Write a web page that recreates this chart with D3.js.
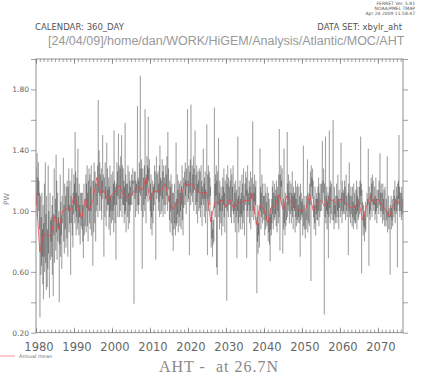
<!DOCTYPE html>
<html><head><meta charset="utf-8">
<script src="https://cdn.jsdelivr.net/npm/d3@7"></script>
<style>html,body{margin:0;padding:0;background:#fff;}svg{display:block;}</style>
</head><body>
<script>
// ---- data ----
const startYear = 1980;
const endTime = 2076.6;
const yTickValues = [0.2, 0.6, 1.0, 1.4, 1.8];
const yMinorValues = [0.4, 0.8, 1.2, 1.6, 2.0];
const xTickYears = [1980, 1990, 2000, 2010, 2020, 2030, 2040, 2050, 2060, 2070];
const annualMean = [
1.12,0.73,0.85,0.84,0.84,0.97,0.88,1.00,1.02,1.00,
1.10,1.03,0.95,1.08,1.01,1.07,1.22,1.12,1.13,1.06,
1.11,1.13,1.17,1.11,1.09,1.10,1.14,1.16,1.14,1.22,
1.07,1.13,1.13,1.14,1.18,1.07,1.01,1.05,1.07,1.18,
1.17,1.18,1.14,1.12,1.12,1.12,0.93,1.05,1.06,1.07,
1.03,1.08,1.02,1.05,1.06,1.07,1.07,1.11,0.91,1.04,
1.01,0.92,1.03,1.03,1.11,1.01,1.10,1.06,1.03,1.01,
1.00,1.01,1.11,1.00,1.05,1.07,1.03,1.08,1.07,1.05,
1.08,1.07,1.04,1.02,1.03,1.06,0.94,1.03,1.10,1.05,
1.08,1.04,1.01,0.96,1.04,1.07,1.04];
// monthly values in hundredths of PW, one row per year from 1980
const monthlyHundredths = [
[128,118,104,138,96,122,110,132,100,120,88,112],
[30,82,110,58,96,64,112,70,88,52,104,42],
[92,70,118,60,104,132,66,98,48,110,74,50],
[88,62,130,72,100,58,43,96,112,68,94,80],
[96,70,104,58,110,76,44,98,84,128,66,80],
[90,108,74,137,86,120,68,104,112,80,96,88],
[100,40,92,78,124,70,106,84,96,62,110,92],
[94,112,135,80,104,72,118,96,88,110,76,116],
[108,82,120,96,70,116,100,128,86,104,92,120],
[96,58,110,92,118,128,84,104,76,112,98,124],
[104,118,92,152,100,126,84,112,96,122,88,126],
[141,92,110,84,118,96,104,78,112,100,90,112],
[100,88,112,80,104,69,96,118,84,92,108,90],
[96,124,86,118,102,130,90,112,80,120,100,128],
[110,92,124,88,116,100,130,84,108,120,96,64],
[98,120,86,132,104,92,126,110,80,118,100,118],
[118,104,130,96,173,112,126,140,100,132,110,124],
[116,100,128,94,120,108,150,112,124,98,70,122],
[120,96,132,108,116,90,124,145,100,128,104,114],
[104,122,88,116,96,130,84,110,100,124,92,106],
[110,94,126,100,118,86,153,104,120,92,116,114],
[68,118,104,132,110,126,96,120,151,108,130,96],
[112,128,100,136,108,122,150,96,130,118,104,128],
[104,120,92,116,98,158,100,124,86,118,106,110],
[118,96,130,88,112,104,126,92,120,100,116,104],
[116,124,104,120,110,128,118,120,112,39,126,118],
[108,126,96,120,112,118,100,118,169,104,122,98],
[120,104,132,112,126,189,110,128,100,134,118,62],
[110,128,96,122,104,116,130,100,167,108,120,92],
[124,110,136,118,130,106,162,120,128,112,134,118],
[100,118,88,124,96,112,84,120,104,92,116,100],
[118,104,130,112,126,98,68,122,136,108,124,116],
[112,126,100,118,106,130,96,143,110,122,98,120],
[120,100,134,108,126,96,118,130,104,122,112,98],
[116,130,104,124,110,136,120,100,152,114,128,106],
[110,94,120,86,116,100,124,92,108,118,84,112],
[96,74,112,100,88,118,92,106,84,110,145,90],
[108,92,124,98,114,86,120,104,96,118,90,112],
[100,120,88,116,104,130,94,112,84,122,102,108],
[114,126,104,132,110,120,98,128,116,122,167,106],
[120,108,130,116,71,126,112,134,104,170,118,110],
[118,130,106,124,112,136,100,128,114,120,153,104],
[110,124,98,130,106,118,92,126,112,120,100,128],
[118,102,126,96,114,130,104,120,90,116,108,124],
[141,104,118,96,122,108,126,92,114,100,120,157],
[112,71,124,108,130,100,118,126,104,122,110,116],
[90,76,100,82,96,70,88,78,94,84,80,168],
[102,118,96,124,110,130,63,120,58,126,112,104],
[148,96,112,88,120,100,108,92,116,104,84,110],
[100,122,90,116,104,128,96,112,86,120,108,102],
[110,124,41,118,100,130,108,96,122,104,116,106],
[104,120,96,128,110,92,124,100,116,106,130,98],
[106,92,118,100,112,86,120,104,96,114,69,108],
[100,149,92,110,86,116,104,96,120,88,108,98],
[112,96,124,88,118,104,92,128,100,110,84,116],
[118,104,126,110,122,69,114,100,130,96,112,108],
[104,120,92,116,100,126,88,112,108,122,96,104],
[159,100,118,94,112,106,124,98,116,104,120,92],
[88,46,96,80,104,72,92,84,100,76,90,141],
[100,116,88,112,96,124,104,92,118,98,110,94],
[96,110,84,118,100,88,112,94,106,90,116,98],
[94,80,112,86,108,78,96,67,102,88,98,84],
[108,92,116,98,120,88,112,100,94,118,96,110],
[98,114,90,120,104,86,116,100,110,92,124,96],
[154,112,74,124,108,130,116,120,104,128,118,72],
[96,108,88,141,92,104,84,112,98,90,106,94],
[110,152,96,118,104,124,100,112,92,120,108,98],
[104,118,92,112,100,126,96,110,88,116,102,112],
[100,112,86,120,96,108,90,116,104,94,118,92],
[104,96,116,92,110,100,70,118,94,112,98,106],
[96,108,84,100,143,90,104,88,98,110,82,100],
[100,88,110,94,104,134,86,112,96,92,108,90],
[118,104,126,112,54,130,116,122,108,128,110,120],
[96,110,88,104,92,116,100,84,108,98,112,94],
[108,94,116,100,122,90,112,104,96,118,100,106],
[110,118,100,124,146,106,120,112,128,116,32,118],
[104,96,149,92,110,100,116,88,106,98,112,69],
[110,96,153,102,116,92,120,106,98,118,100,94],
[100,112,160,94,108,88,116,98,104,92,110,96],
[104,118,92,110,100,124,96,108,88,114,102,106],
[108,96,116,145,100,112,92,120,104,98,114,100],
[112,98,120,104,116,94,108,124,100,110,96,104],
[106,112,71,118,100,132,96,110,104,92,116,98],
[100,110,90,116,96,106,88,118,102,94,112,92],
[104,92,114,98,120,88,110,100,116,94,108,96],
[108,116,98,120,104,149,110,118,59,114,100,106],
[96,84,104,90,100,80,98,88,106,86,94,100],
[100,112,96,108,104,141,110,64,116,98,106,94],
[112,100,122,106,118,96,124,110,104,120,100,108],
[104,116,94,110,98,122,100,108,92,114,102,104],
[106,114,98,120,104,110,138,100,112,96,118,104],
[100,112,92,118,98,108,94,114,104,90,116,102],
[98,90,108,94,104,136,86,100,96,110,88,102],
[100,92,58,104,96,110,88,102,94,108,90,100],
[102,114,96,110,100,120,92,108,104,98,116,100],
[110,63,118,104,120,108,150,100,116,96,112,104],
[100,112,94,116,98,108,104,96]
];

// ---- build series ----
const monthly = [];
monthlyHundredths.forEach((row, i) => {
  row.forEach((v, m) => monthly.push({t: startYear + i + (m + 0.5) / 12, v: v / 100}));
});
const annual = annualMean.map((v, i) => ({t: startYear + i, v}));

// ---- drawing ----
const W = 426, H = 374;
const L = 36, R = 403, T = 59, B = 332.7;
const svg = d3.select("body").append("svg").attr("width", W).attr("height", H);

const x = d3.scaleLinear().domain([startYear, endTime]).range([L, R]);
const y = d3.scaleLinear().domain([0.2, 2.0]).range([B, T]);

const axisColor = "#777";
const textColor = "#666";

svg.append("defs").append("clipPath").attr("id", "clip")
  .append("rect").attr("x", L).attr("y", T).attr("width", R - L).attr("height", B - T);

const g = svg.append("g").attr("clip-path", "url(#clip)");
const line = d3.line().x(d => x(d.t)).y(d => y(d.v));
g.append("path").datum(monthly).attr("d", line)
  .attr("fill", "none").attr("stroke", "#000").attr("stroke-width", 0.3).attr("stroke-opacity", 0.75);
g.append("path").datum(annual).attr("d", line)
  .attr("fill", "none").attr("stroke", "#e8474c").attr("stroke-width", 0.8);

// frame
svg.append("rect").attr("x", L).attr("y", T).attr("width", R - L).attr("height", B - T)
  .attr("fill", "none").attr("stroke", axisColor).attr("stroke-width", 0.8);

// x axes (bottom & top) with yearly minor ticks
const years = d3.range(startYear, Math.floor(endTime) + 1);
const bottomAxis = d3.axisBottom(x).tickValues(years).tickSize(-3).tickFormat("");
const topAxis = d3.axisTop(x).tickValues(years).tickSize(-3).tickFormat("");
const majorBottom = d3.axisBottom(x).tickValues(xTickYears).tickSize(-5).tickFormat("");
const majorTop = d3.axisTop(x).tickValues(xTickYears).tickSize(-5).tickFormat("");
[[bottomAxis, B], [majorBottom, B], [topAxis, T], [majorTop, T]].forEach(([ax, yy]) => {
  const a = svg.append("g").attr("transform", `translate(0,${yy})`).call(ax);
  a.select(".domain").remove();
  a.selectAll("line").attr("stroke", axisColor).attr("stroke-width", 0.7);
});
svg.append("g").selectAll("text").data(xTickYears).join("text")
  .attr("x", d => x(d) + 3).attr("y", B + 18)
  .attr("text-anchor", "middle").attr("font-family", "DejaVu Sans").attr("font-size", 11.5)
  .attr("fill", textColor).text(d => d);

// y axes
const leftMajor = d3.axisLeft(y).tickValues(yTickValues).tickSize(5).tickFormat("");
const leftMinor = d3.axisLeft(y).tickValues(yMinorValues).tickSize(5).tickFormat("");
const rightMajor = d3.axisRight(y).tickValues(yTickValues).tickSize(5).tickFormat("");
const rightMinor = d3.axisRight(y).tickValues(yMinorValues).tickSize(5).tickFormat("");
[[leftMajor, L], [leftMinor, L], [rightMajor, R], [rightMinor, R]].forEach(([ax, xx]) => {
  const a = svg.append("g").attr("transform", `translate(${xx},0)`).call(ax);
  a.select(".domain").remove();
  a.selectAll("line").attr("stroke", axisColor).attr("stroke-width", 0.7);
});
svg.append("g").selectAll("text").data(yTickValues).join("text")
  .attr("x", 29).attr("y", d => y(d) + 2.8)
  .attr("text-anchor", "end").attr("font-family", "DejaVu Sans").attr("font-size", 7.5)
  .attr("fill", textColor).text(d => d3.format(".2f")(d));

svg.append("text").attr("transform", `translate(9,${y(1.0) - 12}) rotate(-90)`)
  .attr("text-anchor", "middle").attr("font-family", "DejaVu Sans").attr("font-size", 7.5)
  .attr("fill", "#888").text("PW");

// header texts
const hdr = ["FERRET Ver. 5.81", "NOAA/PMEL TMAP", "Apr 24 2009 11:58:47"];
svg.append("g").selectAll("text").data(hdr).join("text")
  .attr("x", 415).attr("y", (d, i) => 5 + i * 5)
  .attr("text-anchor", "end").attr("font-family", "DejaVu Sans").attr("font-size", 4.5)
  .attr("fill", "#555").text(d => d);

svg.append("text").attr("x", 35).attr("y", 30)
  .attr("font-family", "DejaVu Sans").attr("font-size", 8.5).attr("fill", "#555")
  .text("CALENDAR: 360_DAY");
svg.append("text").attr("x", 402).attr("y", 30).attr("text-anchor", "end")
  .attr("font-family", "DejaVu Sans").attr("font-size", 8.5).attr("fill", "#555")
  .text("DATA SET: xbylr_aht");
svg.append("text").attr("x", 48).attr("y", 45)
  .attr("font-family", "Liberation Sans").attr("font-size", 12.5).attr("fill", "#999")
  .text("[24/04/09]/home/dan/WORK/HiGEM/Analysis/Atlantic/MOC/AHT");

// legend
svg.append("line").attr("x1", 0).attr("x2", 15).attr("y1", 356).attr("y2", 356)
  .attr("stroke", "#f07a7e").attr("stroke-width", 0.8);
svg.append("text").attr("x", 19).attr("y", 358)
  .attr("font-family", "DejaVu Sans").attr("font-size", 5).attr("fill", "#777")
  .text("Annual mean");

// title
svg.append("text").attr("x", 219).attr("y", 372).attr("text-anchor", "middle")
  .attr("font-family", "Liberation Serif").attr("font-size", 16).attr("fill", "#888")
  .attr("letter-spacing", 1)
  .attr("xml:space", "preserve").style("white-space", "pre")
  .text("AHT -  at 26.7N");
</script>
</body></html>
